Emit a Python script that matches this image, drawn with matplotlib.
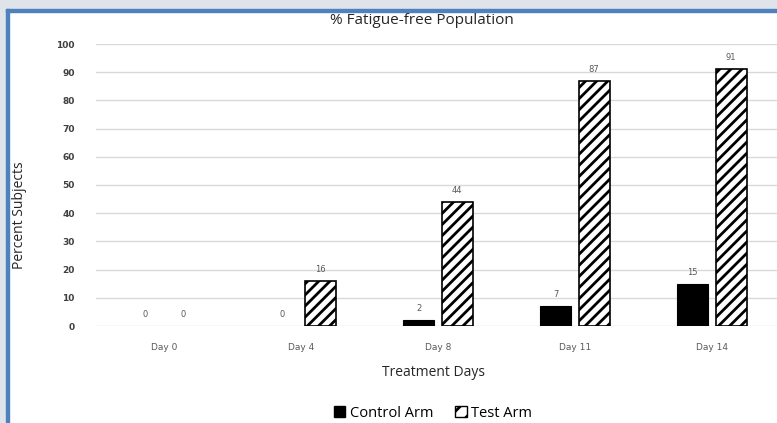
import numpy as np
import matplotlib
matplotlib.use("Agg")
import matplotlib.pyplot as plt
from matplotlib.patches import Rectangle

# data
days = ["Day 0", "Day 4", "Day 8", "Day 11", "Day 14"]
control_arm = [0, 0, 2, 7, 15]
test_arm = [0, 16, 44, 87, 91]
yticks = [0, 10, 20, 30, 40, 50, 60, 70, 80, 90, 100]

plt.rcParams['font.family'] = ['Open Sans', 'DejaVu Sans']
plt.rcParams['hatch.linewidth'] = 2.0

W, H = 777, 423
fig = plt.figure(figsize=(W / 100, H / 100), dpi=100)
fig.patch.set_facecolor("white")

# grey page background and blue frame of the screenshot
fig.patches.append(Rectangle((0, 1 - 9 / H), 1, 9 / H, transform=fig.transFigure,
                             color="#dfe4eb", zorder=0))
fig.patches.append(Rectangle((0, 0), 6 / W, 1, transform=fig.transFigure,
                             color="#dfe4eb", zorder=0))
fig.patches.append(Rectangle((6 / W, 1 - 12 / H), 1, 3 / H, transform=fig.transFigure,
                             color="#4f81bd", zorder=1))
fig.patches.append(Rectangle((6 / W, 0), 3 / W, 1 - 9 / H, transform=fig.transFigure,
                             color="#4f81bd", zorder=1))

ax = fig.add_axes([95.5 / W, 97 / H, 685 / W, 282 / H])
ax.set_facecolor("none")

x = np.arange(len(days))
bw = 0.225
off = 0.14
b1 = ax.bar(x - off, control_arm, bw, color="black", edgecolor="black",
            linewidth=[0.8 if v > 0 else 0 for v in control_arm], zorder=3)
b2 = ax.bar(x + off, test_arm, bw, color="white", edgecolor="black", hatch="///",
            linewidth=[1.2 if v > 0 else 0 for v in test_arm], zorder=3)

for bars, vals in ((b1, control_arm), (b2, test_arm)):
    for r, v in zip(bars, vals):
        ax.annotate(str(v), (r.get_x() + r.get_width() / 2, v), xytext=(0, 5),
                    textcoords="offset points", ha="center", va="bottom",
                    fontsize=6, color="#595959", family="DejaVu Sans")

ax.set_xlim(-0.5, len(days) - 0.5)
ax.set_ylim(0, 100)
ax.set_yticks(yticks)
ax.set_xticks(x)
ax.set_xticklabels(days, fontsize=6.5, color="#595959", family="DejaVu Sans")
ax.set_yticklabels([str(t) for t in yticks], fontsize=6.5, color="#404040",
                   family="DejaVu Sans", fontweight="bold")
ax.tick_params(axis="both", length=0)
ax.tick_params(axis="y", pad=15)
ax.tick_params(axis="x", pad=12)
ax.grid(axis="y", color="#d9d9d9", linewidth=1, zorder=0)
ax.set_axisbelow(True)
for s in ax.spines.values():
    s.set_visible(False)

fig.text(422 / W, 1 - 20 / H, "% Fatigue-free Population", ha="center", va="center",
         fontsize=11, color="#262626")
fig.text(20 / W, 1 - 215 / H, "Percent Subjects", ha="center", va="center",
         rotation=90, fontsize=10, color="#262626")
fig.text(433 / W, 1 - 372 / H, "Treatment Days", ha="center", va="center",
         fontsize=10, color="#262626")

h1 = Rectangle((0, 0), 1, 1, facecolor="black", edgecolor="black")
h2 = Rectangle((0, 0), 1, 1, facecolor="white", edgecolor="black", hatch="//")
fig.legend([h1, h2], ["Control Arm", "Test Arm"], loc="center",
           bbox_to_anchor=(433 / W, 1 - 413 / H), ncol=2, frameon=False,
           fontsize=10.5, handlelength=0.8, handleheight=0.8, handletextpad=0.3,
           columnspacing=1.5)

fig.savefig("out.png", dpi=100)
